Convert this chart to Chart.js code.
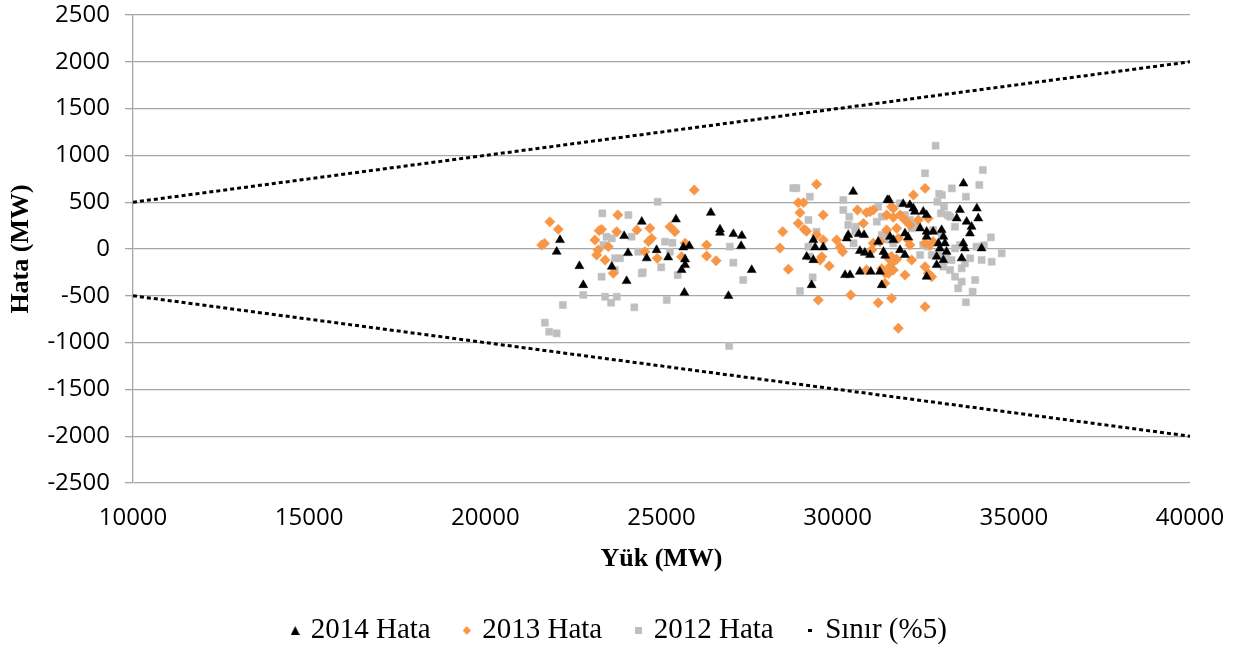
<!DOCTYPE html>
<html>
<head>
<meta charset="utf-8">
<script src="https://cdn.jsdelivr.net/npm/chart.js@4.4.1/dist/chart.umd.min.js"></script>
<style>
  html, body { margin:0; padding:0; background:#fff; }
  #wrap { width:1241px; height:649px; position:relative; }
</style>
</head>
<body>
<div id="wrap"><canvas id="chart-hata" width="1241" height="649"></canvas></div>
<script>
const xTicks = [10000, 15000, 20000, 25000, 30000, 35000, 40000];
const yTicks = [-2500, -2000, -1500, -1000, -500, 0, 500, 1000, 1500, 2000, 2500];

// [Yük (MW), Hata (MW)]
const hata2014 = [
  [22120, 96], [22025, -29], [22670, -182], [22780, -385], [23940, 139], [24050, -43], [23590, -189], [24010, -342], [24440, 292],
  [25410, 317], [26400, 388], [26660, 210], [26660, 174], [27040, 160], [27280, 142], [27260, 32], [27560, -224], [25790, 32],
  [25620, 18], [24860, -11], [25190, -89], [24580, -99], [25670, -110], [25670, -171], [25570, -224], [25650, -467], [26900, -502],
  [30440, 612], [31410, 523], [29310, 96], [29360, 18], [29120, -82], [29310, -118], [29590, 18], [29260, -385], [30300, 150],
  [30255, 114], [30600, 160], [30750, 150], [30630, -20], [30770, -40], [30920, -64], [30210, -278], [30350, -278], [30630, -242],
  [30940, -242], [31200, -242], [31150, 78], [31300, -30], [31350, -70], [31250, -385],
  [33570, 701], [33950, 434], [33470, 417], [33990, 328], [33660, 292], [33800, 238], [33755, 167], [33380, 328], [31460, 523],
  [31860, 481], [32050, 470], [32150, 434], [32190, 399], [32430, 399], [32525, 363], [31485, 131], [31580, 96], [31910, 167],
  [32000, 125], [32340, 221], [32525, 185], [32710, 185], [32525, 131], [32950, 203], [33000, 131], [33045, 61], [32860, 61],
  [32900, 7], [33090, -29], [32810, -82], [33000, -118], [32810, -171], [32525, -296], [33565, 61], [33610, 7], [33520, -99],
  [34085, 7], [31770, -11], [31910, -64]
];
const hata2013 = [
  [21830, 290], [22070, 210], [21600, 43], [21680, 60], [23760, 363], [23230, 196], [23300, 210], [23110, 96], [23200, -11],
  [23160, -64], [23400, -118], [23490, 25], [23630, -260], [23730, 185], [24300, 203],
  [25930, 630], [24670, 221], [25240, 238], [25380, 185], [24720, 114], [24630, 80], [25670, 61], [25570, -82], [26280, 43],
  [26280, -75], [26550, -125], [24880, -100], [24530, -29],
  [29400, 691], [28880, 495], [29030, 495], [28930, 388], [29590, 363], [28880, 274], [29050, 210], [29120, 190], [28440, 185],
  [28360, 10], [29400, 150], [29590, 96], [29550, -82], [29500, -118], [29760, -182], [28600, -217], [29970, 96], [30070, 18],
  [30140, -29], [29450, -545], [30370, -491], [30560, 417], [30820, 390], [30920, 400], [31010, 417], [30730, 274], [31010, 61],
  [30965, -11], [31200, 78], [30820, -224], [31150, -574], [31250, -210], [31350, -260],
  [32480, 648], [32150, 577], [31530, 452], [31580, 434], [31390, 363], [31580, 338], [31770, 363], [31910, 310], [32050, 256],
  [32290, 310], [32570, 328], [31675, 221], [31390, 203], [31720, 114], [32000, 96], [32050, 43], [32480, 61], [32620, 43],
  [32710, 78], [31440, -99], [31530, -80], [31675, -110], [31580, -136], [31480, -189], [31580, -224], [31440, -260], [32100, -118],
  [31910, -278], [32480, -189], [32570, -260], [32670, -296], [31530, -527], [32480, -616], [31720, -847], [31340, -367]
];
const hata2012 = [
  [23320, 381], [24060, 363], [23440, 131], [23590, 114], [23350, 43], [23680, -99], [23820, -99], [23680, -224], [23300, -296],
  [22780, -491], [22200, -598], [23400, -510], [23570, -574], [23730, -510], [24230, -623], [21690, -787], [21810, -884],
  [22025, -901], [24150, 131], [24340, -29], [24440, -260],
  [24890, 505], [25100, 78], [25310, 67], [25240, -29], [24990, -196], [24470, -249], [25460, -278], [25150, -545], [26940, 25],
  [27040, -146], [27320, -331], [26920, -1036],
  [28740, 650], [28830, 650], [29210, 559], [30160, 523], [30160, 417], [30330, 345], [30300, 256], [30520, 238], [30500, 185],
  [30450, 61], [29170, 310], [29400, 185], [29170, 25], [29210, -82], [29290, -303], [28930, -449], [31150, 452], [31110, 292],
  [31250, 345], [31250, 150], [31390, 120],
  [32780, 1104], [32480, 809], [34120, 844], [34020, 684], [33240, 648], [33640, 559], [32880, 590], [32960, 577], [32830, 505],
  [33020, 452], [32930, 381], [33120, 363], [31770, 488], [31910, 363], [32050, 310], [32100, 221], [32240, 256], [33190, 345],
  [33330, 238], [32430, 43], [32570, 25], [32710, 203], [32950, 167], [32340, -64], [32670, -64], [32860, -64], [33090, -82],
  [33230, -118], [33000, -189], [33190, -224], [33330, -296], [33520, -206], [33610, -153], [33760, -99], [33940, 25],
  [33520, -349], [33900, -331], [33420, -420], [33830, -456], [33640, -569], [34085, -118], [34370, -136], [34655, -46],
  [34350, 125], [34150, 40], [33330, 7], [33470, 43], [31440, 100], [31580, 60]
];
const sinirUst = [[10000, 500], [40000, 2000]];
const sinirAlt = [[10000, -500], [40000, -2000]];

const toXY = arr => arr.map(([x, y]) => ({ x, y }));

function markerCanvas(draw, w, h) {
  const c = document.createElement('canvas');
  c.width = w; c.height = h;
  draw(c.getContext('2d'), w, h);
  return c;
}

const legendMarks = [
  markerCanvas((g, w, h) => { g.fillStyle = '#000'; g.beginPath(); g.moveTo(w/2, 0); g.lineTo(w, h); g.lineTo(0, h); g.closePath(); g.fill(); }, 9, 9),
  markerCanvas((g, w, h) => { g.fillStyle = '#F79646'; g.beginPath(); g.moveTo(w/2, 0); g.lineTo(w, h/2); g.lineTo(w/2, h); g.lineTo(0, h/2); g.closePath(); g.fill(); }, 8, 9),
  markerCanvas((g, w, h) => { g.fillStyle = '#BFBFBF'; g.fillRect(0, 0, w, h); }, 7, 7),
  markerCanvas((g, w, h) => { g.fillStyle = '#000'; g.fillRect(0, 0, w, h); }, 4, 3)
];

const gridGray = '#A6A6A6';
const PLOT_TOP = 15;
const PLOT_BOTTOM = 483;
const PLOT_RIGHT_GAP = 51;
const LEGEND_SHIFT = 6;

new Chart(document.getElementById('chart-hata'), {
  type: 'scatter',
  data: {
    datasets: [{
      label: '2014 Hata',
      data: toXY(hata2014),
      pointStyle: 'triangle',
      pointRadius: 5.2,
      backgroundColor: '#000',
      borderColor: '#000',
      borderWidth: 0.5
    }, {
      label: '2013 Hata',
      data: toXY(hata2013),
      pointStyle: 'rectRot',
      pointRadius: 5.2,
      backgroundColor: '#F79646',
      borderColor: '#F79646',
      borderWidth: 0.5
    }, {
      label: '2012 Hata',
      data: toXY(hata2012),
      pointStyle: 'rect',
      pointRadius: 5,
      backgroundColor: '#BFBFBF',
      borderColor: '#BFBFBF',
      borderWidth: 0.5
    }, {
      label: 'Sınır (%5)',
      data: toXY(sinirUst),
      showLine: true,
      pointRadius: 0,
      borderColor: '#000',
      borderWidth: 3,
      borderDash: [4, 3],
      borderCapStyle: 'butt'
    }, {
      label: 'Sınır alt',
      data: toXY(sinirAlt),
      showLine: true,
      pointRadius: 0,
      borderColor: '#000',
      borderWidth: 3,
      borderDash: [4, 3],
      borderCapStyle: 'butt'
    }]
  },
  options: {
    responsive: false,
    animation: false,
    layout: { padding: { top: 0, right: 0, left: 0, bottom: -LEGEND_SHIFT } },
    plugins: {
      tooltip: { enabled: false },
      legend: {
        position: 'bottom',
        labels: {
          usePointStyle: true,
          boxWidth: 2,
          boxHeight: 8,
          padding: 35,
          color: '#000',
          font: { family: '"Liberation Serif", serif', size: 29 },
          generateLabels: chart => {
            const items = Chart.defaults.plugins.legend.labels.generateLabels(chart).filter(it => it.datasetIndex < 4);
            items.forEach((it, i) => { it.pointStyle = legendMarks[i]; });
            return items;
          }
        }
      }
    },
    scales: {
      x: {
        type: 'linear',
        min: 10000, max: 40000,
        afterBuildTicks: s => { s.ticks = xTicks.map(v => ({ value: v })); },
        afterFit: s => {
          const lg = s.chart.legend ? s.chart.legend.height : 0;
          s.height = s.chart.height + LEGEND_SHIFT - lg - PLOT_BOTTOM;
          s.paddingLeft = 0;
          s.paddingRight = PLOT_RIGHT_GAP;
        },
        grid: { display: false, drawTicks: false },
        border: { display: false },
        ticks: { color: '#000', padding: 21, maxRotation: 0, font: { family: '"Open Sans", sans-serif', size: 24 },
          callback: v => String(v) },
        title: { display: true, text: 'Yük (MW)', color: '#000', padding: { top: 8, bottom: 6 },
          font: { family: '"Liberation Serif", serif', size: 26, weight: 'bold' } }
      },
      y: {
        min: -2500, max: 2500,
        afterBuildTicks: s => { s.ticks = yTicks.map(v => ({ value: v })); },
        afterFit: s => {
          s.width = 133;
          s.paddingTop = PLOT_TOP;
          s.paddingBottom = 0;
        },
        grid: { color: gridGray, lineWidth: 1.3, tickLength: 8, drawTicks: true },
        border: { display: true, color: gridGray, width: 1.3 },
        ticks: { color: '#000', padding: 15, font: { family: '"Open Sans", sans-serif', size: 24 },
          callback: v => String(v) },
        title: { display: true, text: 'Hata (MW)', color: '#000', padding: { top: 6, bottom: 0 },
          font: { family: '"Liberation Serif", serif', size: 26, weight: 'bold' } }
      }
    }
  }
});
</script>
</body>
</html>
